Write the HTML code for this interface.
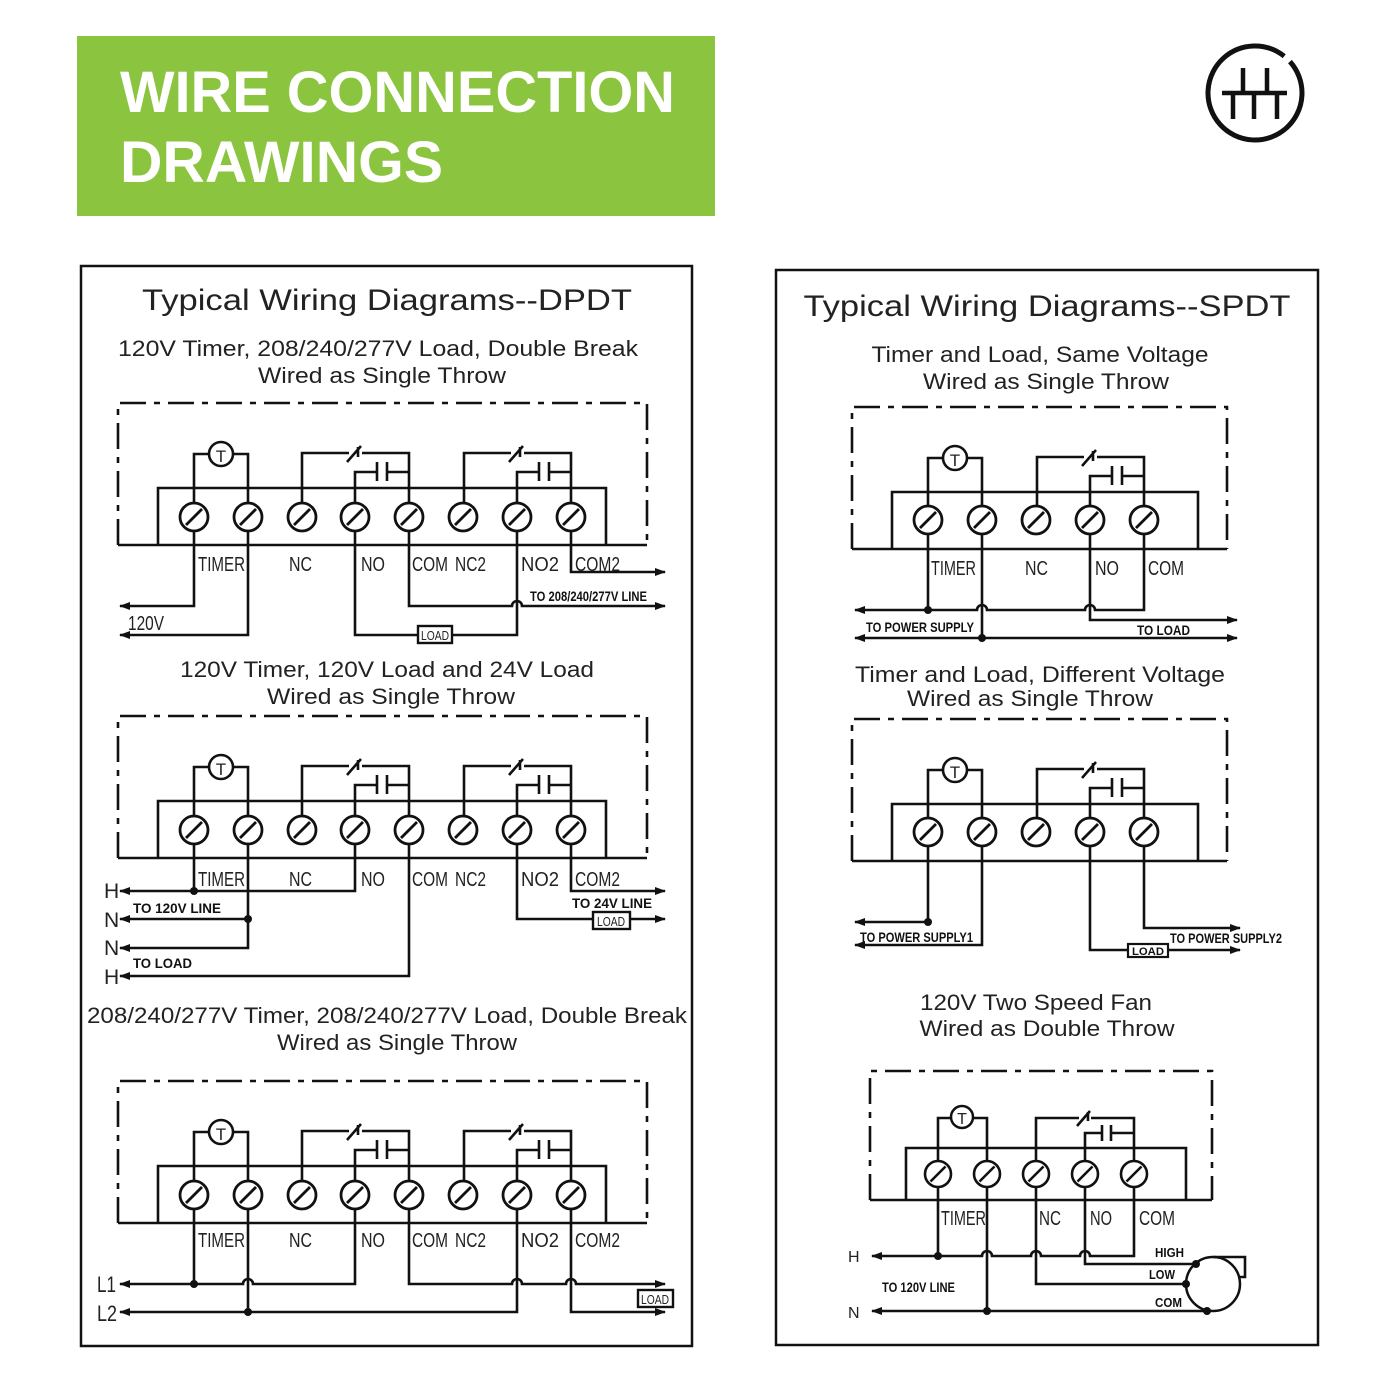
<!DOCTYPE html>
<html><head><meta charset="utf-8"><style>
html,body{margin:0;padding:0;background:#fff;width:1400px;height:1400px;overflow:hidden}
svg{display:block}
.w{fill:none;stroke:#111;stroke-width:2.6;stroke-linejoin:miter}
.d{fill:none;stroke:#111;stroke-width:2.6;stroke-dasharray:26 8 6 8}
.t{font-family:"Liberation Sans",sans-serif;fill:#222}
.lb{font-family:"Liberation Sans Narrow","Liberation Sans",sans-serif;fill:#222;font-size:20px}
.sm{font-family:"Liberation Sans Narrow","Liberation Sans",sans-serif;fill:#111;font-size:14px;font-weight:bold}
.fr{fill:none;stroke:#111;stroke-width:2.5}
</style></head><body>
<svg width="1400" height="1400" viewBox="0 0 1400 1400" xmlns="http://www.w3.org/2000/svg">
<defs>
<marker id="a" markerUnits="userSpaceOnUse" markerWidth="11" markerHeight="8" refX="10" refY="4" orient="auto"><path d="M0,0 L11,4 L0,8 z" fill="#111"/></marker>
<g id="sc"><circle cx="0" cy="0" r="14" fill="#fff" stroke="#111" stroke-width="2.8"/><line x1="-8" y1="8" x2="8" y2="-8" stroke="#111" stroke-width="2.8"/></g>
<g id="sc2"><circle cx="0" cy="0" r="13" fill="#fff" stroke="#111" stroke-width="2.6"/><line x1="-7.5" y1="7.5" x2="7.5" y2="-7.5" stroke="#111" stroke-width="2.6"/></g>
<g id="relay">
<path class="w" d="M302,503 V453 H349 M362,453 H409 V503"/>
<path class="w" d="M347,462 L361,446 M358,447 V457"/>
<path class="w" d="M355,503 V472 H377 M377,462 V481 M387,462 V481 M387,472 H409"/>
</g>
<g id="dpdt">
<path class="d" d="M118,545 V403 H647 V545"/>
<path class="w" d="M118,545 H647 M158,545 V488 H606 V545"/>
<path class="w" d="M194,503 V454 H209 M233,454 H248 V503"/>
<circle cx="221" cy="454" r="12" fill="#fff" stroke="#111" stroke-width="2.6"/>
<text x="221" y="462" text-anchor="middle" class="t" font-size="17">T</text>
<use href="#relay"/><use href="#relay" transform="translate(162,0)"/>
<use href="#sc" x="194" y="517"/><use href="#sc" x="248" y="517"/><use href="#sc" x="302" y="517"/><use href="#sc" x="355" y="517"/><use href="#sc" x="409" y="517"/><use href="#sc" x="463" y="517"/><use href="#sc" x="517" y="517"/><use href="#sc" x="571" y="517"/>
</g>
<g id="spdt">
<path class="d" d="M852,549 V407 H1227 V549"/>
<path class="w" d="M852,549 H1227 M892,549 V492 H1198 V549"/>
<path class="w" d="M928,506 V458 H943 M967,458 H982 V506"/>
<circle cx="955" cy="458" r="12" fill="#fff" stroke="#111" stroke-width="2.6"/>
<text x="955" y="466" text-anchor="middle" class="t" font-size="17">T</text>
<use href="#relay" transform="translate(735,4)"/>
<use href="#sc" x="928" y="520"/><use href="#sc" x="982" y="520"/><use href="#sc" x="1036" y="520"/><use href="#sc" x="1090" y="520"/><use href="#sc" x="1144" y="520"/>
</g>
</defs>

<!-- header -->
<rect x="77" y="36" width="638" height="180" fill="#8bc43f"/>
<text x="120" y="112" class="t" font-size="58" font-weight="bold" style="fill:#fff" textLength="555" lengthAdjust="spacingAndGlyphs">WIRE CONNECTION</text>
<text x="120" y="182" class="t" font-size="58" font-weight="bold" style="fill:#fff" textLength="323" lengthAdjust="spacingAndGlyphs">DRAWINGS</text>
<!-- logo -->
<circle cx="1255" cy="93" r="47" fill="none" stroke="#111" stroke-width="5" stroke-dasharray="287 8.3" transform="rotate(-42 1255 93)"/>
<path d="M1222,93 H1287 M1233,93 V119 M1254,93 V119 M1277,93 V119 M1243,68 V93 M1267,68 V93" fill="none" stroke="#111" stroke-width="4.5"/>

<!-- DPDT frame -->
<rect class="fr" x="81" y="266" width="611" height="1080"/>
<text x="387" y="310" text-anchor="middle" class="t" font-size="30" textLength="490" lengthAdjust="spacingAndGlyphs">Typical Wiring Diagrams--DPDT</text>
<text x="378" y="356" text-anchor="middle" class="t" font-size="22" textLength="520" lengthAdjust="spacingAndGlyphs">120V Timer, 208/240/277V Load, Double Break</text>
<text x="382" y="383" text-anchor="middle" class="t" font-size="22" textLength="248" lengthAdjust="spacingAndGlyphs">Wired as Single Throw</text>

<!-- block1 -->
<use href="#dpdt"/>
<g class="lb"><text x="198" y="571" textLength="47" lengthAdjust="spacingAndGlyphs">TIMER</text><text x="289" y="571" textLength="23" lengthAdjust="spacingAndGlyphs">NC</text><text x="361" y="571" textLength="24" lengthAdjust="spacingAndGlyphs">NO</text><text x="412" y="571" textLength="36" lengthAdjust="spacingAndGlyphs">COM</text><text x="455" y="571" textLength="31" lengthAdjust="spacingAndGlyphs">NC2</text><text x="521" y="571" textLength="38" lengthAdjust="spacingAndGlyphs">NO2</text><text x="575" y="571" textLength="45" lengthAdjust="spacingAndGlyphs">COM2</text></g>
<path class="w" marker-end="url(#a)" d="M194,531 V606 H120"/>
<path class="w" marker-end="url(#a)" d="M248,531 V635 H120"/>
<path class="w" d="M355,531 V635 H418 M452,635 H517 V531"/>
<rect x="418" y="626" width="34" height="17" fill="#fff" stroke="#111" stroke-width="2.4"/>
<text x="435" y="640" text-anchor="middle" class="lb" style="font-size:13px" textLength="28" lengthAdjust="spacingAndGlyphs">LOAD</text>
<path class="w" marker-end="url(#a)" d="M409,531 V606 H512 a5,5 0 0 1 10,0 H665"/>
<path class="w" marker-end="url(#a)" d="M571,531 V572 H665"/>
<text x="128" y="630" class="lb" textLength="36" lengthAdjust="spacingAndGlyphs">120V</text>
<text x="530" y="601" class="sm" textLength="117" lengthAdjust="spacingAndGlyphs">TO 208/240/277V LINE</text>

<!-- block2 -->
<text x="387" y="677" text-anchor="middle" class="t" font-size="22" textLength="414" lengthAdjust="spacingAndGlyphs">120V Timer, 120V Load and 24V Load</text>
<text x="391" y="704" text-anchor="middle" class="t" font-size="22" textLength="248" lengthAdjust="spacingAndGlyphs">Wired as Single Throw</text>
<use href="#dpdt" y="313"/>
<g class="lb"><text x="198" y="886" textLength="47" lengthAdjust="spacingAndGlyphs">TIMER</text><text x="289" y="886" textLength="23" lengthAdjust="spacingAndGlyphs">NC</text><text x="361" y="886" textLength="24" lengthAdjust="spacingAndGlyphs">NO</text><text x="412" y="886" textLength="36" lengthAdjust="spacingAndGlyphs">COM</text><text x="455" y="886" textLength="31" lengthAdjust="spacingAndGlyphs">NC2</text><text x="521" y="886" textLength="38" lengthAdjust="spacingAndGlyphs">NO2</text><text x="575" y="886" textLength="45" lengthAdjust="spacingAndGlyphs">COM2</text></g>
<path class="w" d="M194,844 V891"/>
<path class="w" marker-end="url(#a)" d="M355,844 V891 H120"/>
<path class="w" marker-end="url(#a)" d="M248,844 V948 H120"/>
<path class="w" marker-end="url(#a)" d="M248,919 H120"/>
<path class="w" marker-end="url(#a)" d="M409,844 V976 H120"/>
<path class="w" marker-end="url(#a)" d="M571,844 V891 H665"/>
<path class="w" d="M517,844 V919 H593"/>
<path class="w" marker-end="url(#a)" d="M630,919 H665"/>
<rect x="593" y="912" width="37" height="17" fill="#fff" stroke="#111" stroke-width="2.4"/>
<text x="611" y="926" text-anchor="middle" class="lb" style="font-size:13px" textLength="28" lengthAdjust="spacingAndGlyphs">LOAD</text>
<circle cx="194" cy="891" r="4" fill="#111"/><circle cx="248" cy="919" r="4" fill="#111"/>
<g class="lb" style="font-size:21px"><text x="104" y="898">H</text><text x="104" y="927">N</text><text x="104" y="955">N</text><text x="104" y="984">H</text></g>
<text x="133" y="913" class="sm" textLength="88" lengthAdjust="spacingAndGlyphs">TO 120V LINE</text>
<text x="133" y="968" class="sm" textLength="59" lengthAdjust="spacingAndGlyphs">TO LOAD</text>
<text x="572" y="908" class="sm" textLength="80" lengthAdjust="spacingAndGlyphs">TO 24V LINE</text>

<!-- block3 -->
<text x="387" y="1023" text-anchor="middle" class="t" font-size="22" textLength="600" lengthAdjust="spacingAndGlyphs">208/240/277V Timer, 208/240/277V Load, Double Break</text>
<text x="397" y="1050" text-anchor="middle" class="t" font-size="22" textLength="240" lengthAdjust="spacingAndGlyphs">Wired as Single Throw</text>
<use href="#dpdt" y="678"/>
<g class="lb"><text x="198" y="1247" textLength="47" lengthAdjust="spacingAndGlyphs">TIMER</text><text x="289" y="1247" textLength="23" lengthAdjust="spacingAndGlyphs">NC</text><text x="361" y="1247" textLength="24" lengthAdjust="spacingAndGlyphs">NO</text><text x="412" y="1247" textLength="36" lengthAdjust="spacingAndGlyphs">COM</text><text x="455" y="1247" textLength="31" lengthAdjust="spacingAndGlyphs">NC2</text><text x="521" y="1247" textLength="38" lengthAdjust="spacingAndGlyphs">NO2</text><text x="575" y="1247" textLength="45" lengthAdjust="spacingAndGlyphs">COM2</text></g>
<path class="w" d="M194,1209 V1284"/>
<path class="w" marker-end="url(#a)" d="M355,1209 V1284 H253 a5,5 0 0 0 -10,0 H120"/>
<path class="w" marker-end="url(#a)" d="M409,1209 V1284 H512 a5,5 0 0 1 10,0 H566 a5,5 0 0 1 10,0 H665"/>
<path class="w" d="M248,1209 V1312"/>
<path class="w" marker-end="url(#a)" d="M517,1209 V1312 H120"/>
<path class="w" marker-end="url(#a)" d="M571,1209 V1312 H665"/>
<circle cx="194" cy="1284" r="4" fill="#111"/><circle cx="248" cy="1312" r="4" fill="#111"/>
<rect x="638" y="1290" width="35" height="17" fill="#fff" stroke="#111" stroke-width="2.4"/>
<text x="655" y="1304" text-anchor="middle" class="lb" style="font-size:13px" textLength="28" lengthAdjust="spacingAndGlyphs">LOAD</text>
<g class="lb" style="font-size:22px"><text x="97" y="1292" textLength="19" lengthAdjust="spacingAndGlyphs">L1</text><text x="97" y="1321" textLength="20" lengthAdjust="spacingAndGlyphs">L2</text></g>

<!-- SPDT frame -->
<rect class="fr" x="776" y="270" width="542" height="1075"/>
<text x="1047" y="316" text-anchor="middle" class="t" font-size="30" textLength="487" lengthAdjust="spacingAndGlyphs">Typical Wiring Diagrams--SPDT</text>
<text x="1040" y="362" text-anchor="middle" class="t" font-size="22" textLength="337" lengthAdjust="spacingAndGlyphs">Timer and Load, Same Voltage</text>
<text x="1046" y="389" text-anchor="middle" class="t" font-size="22" textLength="246" lengthAdjust="spacingAndGlyphs">Wired as Single Throw</text>

<!-- S1 -->
<use href="#spdt"/>
<g class="lb"><text x="931" y="575" textLength="45" lengthAdjust="spacingAndGlyphs">TIMER</text><text x="1025" y="575" textLength="23" lengthAdjust="spacingAndGlyphs">NC</text><text x="1095" y="575" textLength="24" lengthAdjust="spacingAndGlyphs">NO</text><text x="1148" y="575" textLength="36" lengthAdjust="spacingAndGlyphs">COM</text></g>
<path class="w" marker-end="url(#a)" d="M928,534 V610 H855"/>
<path class="w" d="M928,610 H977 a5,5 0 0 1 10,0 H1085 a5,5 0 0 1 10,0 H1144 V534"/>
<path class="w" marker-end="url(#a)" d="M1090,534 V620 H1237"/>
<path class="w" d="M982,534 V638"/>
<path class="w" marker-end="url(#a)" d="M982,638 H855"/>
<path class="w" marker-end="url(#a)" d="M982,638 H1237"/>
<circle cx="928" cy="610" r="4" fill="#111"/><circle cx="982" cy="638" r="4" fill="#111"/>
<text x="866" y="632" class="sm" textLength="108" lengthAdjust="spacingAndGlyphs">TO POWER SUPPLY</text>
<text x="1137" y="635" class="sm" textLength="53" lengthAdjust="spacingAndGlyphs">TO LOAD</text>

<!-- S2 -->
<text x="1040" y="682" text-anchor="middle" class="t" font-size="22" textLength="370" lengthAdjust="spacingAndGlyphs">Timer and Load, Different Voltage</text>
<text x="1030" y="706" text-anchor="middle" class="t" font-size="22" textLength="246" lengthAdjust="spacingAndGlyphs">Wired as Single Throw</text>
<use href="#spdt" y="312"/>
<path class="w" marker-end="url(#a)" d="M928,846 V922 H855"/>
<path class="w" marker-end="url(#a)" d="M982,846 V945 H855"/>
<path class="w" d="M1090,846 V950 H1128"/>
<path class="w" marker-end="url(#a)" d="M1168,950 H1240"/>
<path class="w" marker-end="url(#a)" d="M1144,846 V928 H1240"/>
<rect x="1128" y="944" width="40" height="13" fill="#fff" stroke="#111" stroke-width="2.2"/>
<text x="1148" y="955" text-anchor="middle" class="sm" style="font-size:11px" textLength="32" lengthAdjust="spacingAndGlyphs">LOAD</text>
<circle cx="928" cy="922" r="4" fill="#111"/>
<text x="860" y="942" class="sm" textLength="113" lengthAdjust="spacingAndGlyphs">TO POWER SUPPLY1</text>
<text x="1170" y="943" class="sm" textLength="112" lengthAdjust="spacingAndGlyphs">TO POWER SUPPLY2</text>

<!-- S3 -->
<text x="1036" y="1010" text-anchor="middle" class="t" font-size="22" textLength="232" lengthAdjust="spacingAndGlyphs">120V Two Speed Fan</text>
<text x="1047" y="1036" text-anchor="middle" class="t" font-size="22" textLength="255" lengthAdjust="spacingAndGlyphs">Wired as Double Throw</text>
<path class="d" d="M870,1200 V1071 H1212 V1200"/>
<path class="w" d="M870,1200 H1212 M906,1200 V1148 H1186 V1200"/>
<path class="w" d="M938,1161 V1118 H951 M973,1118 H987 V1161"/>
<circle cx="962" cy="1117" r="11" fill="#fff" stroke="#111" stroke-width="2.5"/>
<text x="962" y="1124" text-anchor="middle" class="t" font-size="16">T</text>
<path class="w" d="M1036,1161 V1118 H1079 M1091,1118 H1134 V1161"/>
<path class="w" d="M1077,1126 L1090,1111 M1088,1112 V1121"/>
<path class="w" d="M1085,1161 V1133 H1102 M1102,1125 V1141 M1111,1125 V1141 M1111,1133 H1134"/>
<use href="#sc2" x="938" y="1174"/><use href="#sc2" x="987" y="1174"/><use href="#sc2" x="1036" y="1174"/><use href="#sc2" x="1085" y="1174"/><use href="#sc2" x="1134" y="1174"/>
<g class="lb"><text x="941" y="1225" textLength="45" lengthAdjust="spacingAndGlyphs">TIMER</text><text x="1039" y="1225" textLength="22" lengthAdjust="spacingAndGlyphs">NC</text><text x="1090" y="1225" textLength="22" lengthAdjust="spacingAndGlyphs">NO</text><text x="1139" y="1225" textLength="36" lengthAdjust="spacingAndGlyphs">COM</text></g>
<path class="w" marker-end="url(#a)" d="M1134,1187 V1256 H1090 a5,5 0 0 0 -10,0 H1041 a5,5 0 0 0 -10,0 H992 a5,5 0 0 0 -10,0 H872"/>
<path class="w" d="M938,1187 V1256 M1085,1187 V1264 H1196 M1036,1187 V1284 H1186 M987,1187 V1311"/>
<path class="w" marker-end="url(#a)" d="M1207,1311 H872"/>
<circle cx="938" cy="1256" r="4" fill="#111"/><circle cx="987" cy="1311" r="4" fill="#111"/>
<circle cx="1213" cy="1284" r="27" fill="none" stroke="#111" stroke-width="2.5"/>
<path class="w" d="M1213,1257 H1245 V1277 H1239"/>
<circle cx="1196" cy="1264" r="4" fill="#111"/><circle cx="1186" cy="1284" r="4" fill="#111"/><circle cx="1207" cy="1311" r="4" fill="#111"/>
<g class="t" font-size="16"><text x="848" y="1262">H</text><text x="848" y="1318">N</text></g>
<text x="882" y="1292" class="sm" textLength="73" lengthAdjust="spacingAndGlyphs">TO 120V LINE</text>
<text x="1155" y="1257" class="sm" style="font-size:13px" textLength="29" lengthAdjust="spacingAndGlyphs">HIGH</text>
<text x="1149" y="1279" class="sm" style="font-size:13px" textLength="26" lengthAdjust="spacingAndGlyphs">LOW</text>
<text x="1155" y="1307" class="sm" style="font-size:13px" textLength="27" lengthAdjust="spacingAndGlyphs">COM</text>
</svg>
</body></html>
